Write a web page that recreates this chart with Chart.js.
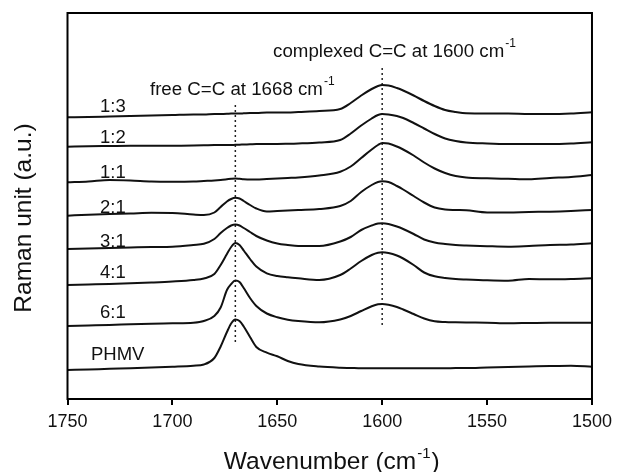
<!DOCTYPE html>
<html><head><meta charset="utf-8">
<script src="https://cdn.jsdelivr.net/npm/chart.js@4.4.0/dist/chart.umd.min.js"></script>
<style>html,body{margin:0;padding:0;background:#fff;}canvas{display:block;}</style>
</head><body>
<canvas id="c" width="618" height="472"></canvas>
<script>
// Wavenumber grid (cm-1)
const wavenumbers = [1750,1740,1730,1720,1710,1700,1690,1685,1680,1677,1674,1672,1670,1668,1666,1663,1660,1655,1650,1645,1640,1630,1620,1615,1610,1605,1602,1600,1597,1593,1590,1585,1580,1575,1570,1565,1560,1550,1540,1530,1520,1510,1500];

const seriesNames = ["1:3","1:2","1:1","2:1","3:1","4:1","6:1","PHMV"];

// Stacked Raman intensities (a.u.)
const ratio13 = [281.7,282,282.5,283,283.5,284,284.5,284.5,285,285,285.2,285.5,285.5,285.5,285.7,286,286,286.5,286.5,286.5,287,288,290,296,303.5,310,313,314,313.5,311,308.5,303.5,298,293,289,287,285.7,285.5,285.5,285,285,285.5,286.7];
const ratio12 = [252.3,252.7,253,253.3,253.3,253.3,253.5,253.7,254,254,254,254,254.2,254.3,254.5,254.7,255,255,255,255.2,255.5,256.5,259,265.5,273.5,280.5,284,285,284.5,283,281,276,270.5,265,260.5,258,256.5,255.5,255,255,255,255.5,256.7];
const ratio11 = [216.7,217.5,219,218.5,217.5,217.3,217.5,218,218.5,219,219.7,220.2,220.5,220.2,219.8,219.5,219.5,220,220.5,221,221.5,223.5,227.3,232.5,241,249.5,254,256,255.5,252.5,249.5,243.5,236.5,230.5,226,223,221.5,220.7,220.2,219.7,221,222,224];
const ratio21 = [183.3,184.3,185,185.5,186.2,186,184.5,184,186.5,192,197.5,200,201.2,200.5,198,194,190.5,187.5,188,188.5,189,190,193,198,207,214,217,217.7,217,213,209.5,203,196.5,191.5,189.5,189,188.7,186.5,186.5,187,187.3,188,189];
const ratio31 = [150,150.5,151,151.5,152,152.3,154,155.2,160,166,171,173.5,174.5,173.5,171,167,163,158.5,155.5,154,153,153,157.5,162,169,173.5,175.5,175.7,175,172.5,170,165,159.5,156.5,155,154,153.5,152.8,152.3,153,154,154.5,155.7];
const ratio41 = [114,114.5,115,115.7,116.5,117.5,119,120.5,125,134,145,152,156,154,148.5,140,132.5,125.7,123,121.7,120.7,119,124,130.5,138,144,146.3,146.7,146,143.5,140.5,134,126.5,122.7,121,120,119.5,118.7,118.3,120,119.7,120,120.7];
const ratio61 = [73,73.5,74,74.7,75.3,75.7,76.3,78,83,91.5,109,115,118.5,117,111,101,93,85.5,81.7,79.3,78,76.7,79.5,83,88,92.7,94.7,95,94.2,92,89.5,85,80.5,77.7,77,76.7,76.5,76.3,75.7,76,76.3,76.3,76.3];
const phmv = [29,29.5,30.2,30.7,31.5,32.3,33.3,34.5,41,52.5,67,75.5,79.5,78,72.5,62,52,46.3,42.7,38,35,32.5,31.3,31,30.7,30.7,30.7,30.7,30.7,30.7,30.7,30.7,30.7,30.7,30.7,31,31,31.5,32,32.5,33,33.3,32.3];

const xTicks = [1750,1700,1650,1600,1550,1500];

// Reference band positions (cm-1) and dotted-line extents (a.u.)
const bandFree = 1670, bandFreeSpan = [57, 296];
const bandComplexed = 1600, bandComplexedSpan = [74, 334];

// Series label anchors (wavenumber, a.u.)
const labelWn = [1734.5,1734.5,1734.5,1734.5,1734.5,1734.5,1734.5,1738.8];
const labelVal = [287,256,221,186,152,121,81,39];

const allSeries = [ratio13, ratio12, ratio11, ratio21, ratio31, ratio41, ratio61, phmv];

const FONT = '"Liberation Sans", Arial, Helvetica, sans-serif';
const INK = '#111';

const datasets = allSeries.map((vals, k) => ({
  label: seriesNames[k],
  data: wavenumbers.map((w, i) => ({x: w, y: vals[i]})),
  borderColor: INK, borderWidth: 2, pointRadius: 0, fill: false,
  cubicInterpolationMode: 'monotone'
}));
datasets.push({
  label: 'free', data: [{x: bandFree, y: bandFreeSpan[0]}, {x: bandFree, y: bandFreeSpan[1]}],
  borderColor: '#222', borderWidth: 1.5, borderDash: [2, 3], pointRadius: 0, fill: false
});
datasets.push({
  label: 'complexed', data: [{x: bandComplexed, y: bandComplexedSpan[0]}, {x: bandComplexed, y: bandComplexedSpan[1]}],
  borderColor: '#222', borderWidth: 1.5, borderDash: [2, 3], pointRadius: 0, fill: false
});

function supText(ctx, x, y, main, sup, size, supSize, raise) {
  ctx.font = size + 'px ' + FONT;
  ctx.textAlign = 'left';
  ctx.textBaseline = 'alphabetic';
  ctx.fillText(main, x, y);
  const w = ctx.measureText(main).width;
  ctx.font = supSize + 'px ' + FONT;
  ctx.fillText(sup, x + w + 1, y - raise);
  return w + 1 + ctx.measureText(sup).width;
}

const decor = {
  id: 'decor',
  afterDraw(chart) {
    const {ctx, chartArea: a, scales: {x, y}} = chart;
    ctx.save();
    ctx.strokeStyle = '#000';
    ctx.lineWidth = 2;
    ctx.strokeRect(a.left, a.top, a.right - a.left, a.bottom - a.top);
    ctx.fillStyle = INK;
    // series labels
    ctx.font = '18.5px ' + FONT;
    ctx.textAlign = 'left';
    ctx.textBaseline = 'alphabetic';
    seriesNames.forEach((n, k) => {
      ctx.fillText(n, x.getPixelForValue(labelWn[k]), y.getPixelForValue(labelVal[k]));
    });
    // band annotations
    supText(ctx, x.getPixelForValue(1652), y.getPixelForValue(341.7), 'complexed C=C at 1600 cm', '-1', 18.7, 12, 10.5);
    supText(ctx, x.getPixelForValue(1710.7), y.getPixelForValue(304), 'free C=C at 1668 cm', '-1', 18.7, 12, 10.5);
    // x title
    ctx.font = '24.5px ' + FONT;
    const w1 = ctx.measureText('Wavenumber (cm').width;
    ctx.font = '15px ' + FONT;
    const w2 = ctx.measureText('-1').width;
    ctx.font = '24.5px ' + FONT;
    const w3 = ctx.measureText(')').width;
    const total = w1 + 1 + w2 + 1 + w3;
    const cx = (a.left + a.right) / 2 + 2;
    let sx = cx - total / 2;
    const by = 469;
    ctx.fillText('Wavenumber (cm', sx, by);
    ctx.font = '15px ' + FONT;
    ctx.fillText('-1', sx + w1 + 1, by - 11);
    ctx.font = '24.5px ' + FONT;
    ctx.fillText(')', sx + w1 + 1 + w2 + 1, by);
    // y title
    ctx.translate(30.5, 218);
    ctx.rotate(-Math.PI / 2);
    ctx.textAlign = 'center';
    ctx.font = '24.5px ' + FONT;
    ctx.fillText('Raman unit (a.u.)', 0, 0);
    ctx.restore();
  }
};

new Chart(document.getElementById('c'), {
  type: 'line',
  data: {datasets},
  options: {
    responsive: false,
    devicePixelRatio: 1,
    animation: false,
    layout: {padding: {left: 67.5, right: 25, top: 13, bottom: 0}},
    plugins: {legend: {display: false}, tooltip: {enabled: false}},
    scales: {
      x: {
        type: 'linear', reverse: true, min: 1500, max: 1750,
        afterBuildTicks: (s) => { s.ticks = xTicks.map(v => ({value: v})); },
        afterFit: (s) => { s.height = 73; },
        ticks: {
          color: INK, font: {family: FONT, size: 18}, padding: 6,
          maxRotation: 0, autoSkip: false, callback: (v) => String(v)
        },
        grid: {display: true, drawOnChartArea: false, drawTicks: true, tickLength: 6, color: '#000', lineWidth: 2},
        border: {display: true, color: '#000', width: 2}
      },
      y: {
        type: 'linear', min: 0, max: 386, display: false
      }
    }
  },
  plugins: [decor]
});
</script>
</body></html>
